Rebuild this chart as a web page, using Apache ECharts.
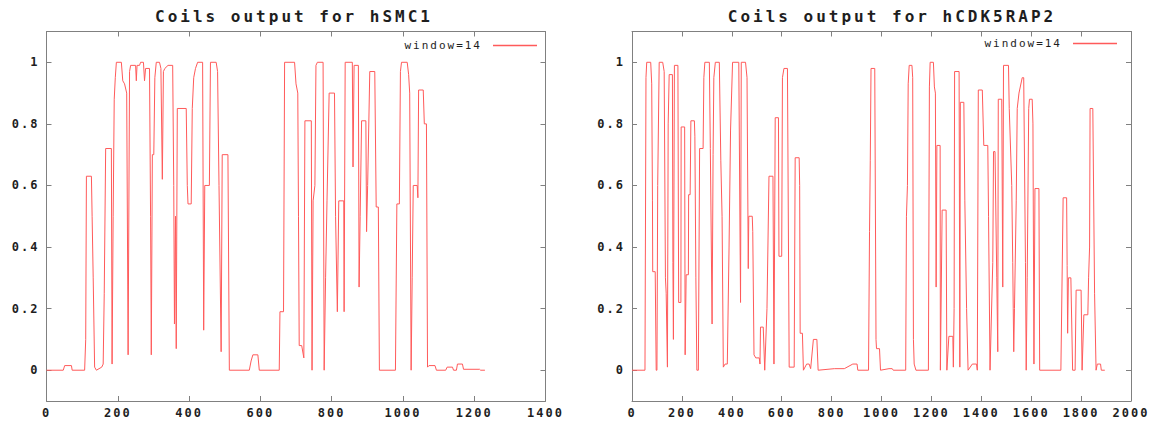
<!DOCTYPE html>
<html>
<head>
<meta charset="utf-8">
<script src="https://cdn.jsdelivr.net/npm/echarts@6/dist/echarts.min.js"></script>
<style>
html, body { margin: 0; padding: 0; background: #fff; }
#main { width: 1153px; height: 421px; }
#main text { letter-spacing: 2px; }
#main text[style*="16px"] { letter-spacing: 3px; }
</style>
</head>
<body>
<div id="main"></div>
<script>
// ---- data ----
const seriesName = 'window=14';
const leftTitle = 'Coils output for hSMC1';
const rightTitle = 'Coils output for hCDK5RAP2';
const yTickValues = [0, 0.2, 0.4, 0.6, 0.8, 1];

const smcPos = [0,47,51,70,72,107,110,112,126,128,131,135,140,155,159,162,166,182,184,187,190,193,196,210,214,219,225,229,233,236,250,252,254,261,264,272,275,278,289,292,294,297,301,304,308,317,321,325,328,332,341,354,357,359,362,364,367,392,395,397,406,409,413,418,424,438,441,444,457,460,476,480,484,490,493,509,513,569,574,579,593,597,653,655,665,668,696,700,705,707,709,716,722,725,743,745,748,753,756,760,776,779,783,787,793,808,811,816,820,834,835,838,858,860,863,875,877,880,884,896,898,901,907,921,925,931,934,979,983,990,993,996,1012,1016,1019,1023,1026,1029,1040,1042,1044,1057,1060,1066,1069,1073,1090,1094,1120,1124,1139,1142,1150,1153,1167,1170,1215,1218,1230];
const smcCoil = [0,0,0.015,0.015,0,0,0.1,0.63,0.63,0.5,0.3,0.01,0,0.01,0.02,0.25,0.72,0.72,0.02,0.5,0.88,0.95,1.0,1.0,0.94,0.93,0.9,0.05,0.97,0.99,0.99,0.94,0.99,0.99,1.0,1.0,0.94,0.98,0.98,0.5,0.05,0.7,0.7,0.95,1.0,1.0,0.98,0.62,0.97,0.98,0.99,0.99,0.6,0.15,0.5,0.07,0.85,0.85,0.6,0.54,0.54,0.85,0.95,0.98,1.0,1.0,0.13,0.6,0.6,1.0,1.0,0.97,0.6,0.06,0.7,0.7,0,0,0.03,0.05,0.05,0,0,0.19,0.19,1.0,1.0,0.93,0.9,0.5,0.08,0.08,0.04,0.81,0.81,0,0.55,0.6,0.99,1.0,1.0,0,0.3,0.55,0.9,0.9,0.5,0.19,0.55,0.55,0.19,1.0,1.0,0.66,0.99,0.99,0.27,0.5,0.81,0.81,0.45,0.6,0.97,0.97,0.53,0.53,0,0,0.54,0.54,0.97,1.0,1.0,0.96,0.9,0,0.3,0.6,0.6,0.56,0.91,0.91,0.8,0.8,0.01,0.015,0.015,0,0,0.01,0.01,0,0,0.02,0.02,0.003,0.003,0,0];

const cdkPos = [0,52,56,59,75,79,82,83,93,97,100,103,109,123,129,134,137,142,145,149,162,164,166,170,184,187,196,197,211,213,217,226,227,233,236,250,252,256,260,266,271,285,288,292,310,314,321,325,328,334,350,356,361,366,373,382,389,395,403,428,435,438,455,461,466,468,482,484,489,496,510,513,515,526,532,541,549,565,569,574,587,589,600,603,609,623,630,650,654,670,672,674,683,687,700,710,716,727,741,746,811,851,885,902,905,948,952,955,958,973,978,980,992,996,1030,1043,1047,1097,1100,1104,1107,1111,1122,1125,1128,1131,1138,1188,1192,1195,1208,1212,1216,1219,1222,1235,1236,1243,1259,1262,1270,1286,1288,1291,1293,1311,1314,1316,1330,1334,1341,1347,1364,1381,1384,1388,1404,1410,1426,1429,1435,1446,1449,1455,1462,1466,1468,1482,1486,1489,1509,1512,1522,1526,1528,1530,1533,1540,1544,1551,1564,1570,1577,1580,1584,1590,1593,1604,1607,1611,1615,1631,1634,1719,1728,1742,1744,1746,1749,1759,1766,1776,1780,1800,1804,1811,1827,1830,1834,1836,1847,1854,1860,1865,1878,1881,1895];
const cdkCoil = [0,0,0.95,1.0,1.0,0.93,0.55,0.32,0.32,0,0,0.6,1.0,1.0,0.97,0.3,0.25,0.01,0.8,0.96,0.96,0.35,0.1,0.99,0.99,0.22,0.22,0.79,0.79,0.05,0.31,0.31,0.57,0.57,0.81,0.81,0.76,0.3,0,0,0.72,0.72,0.95,1.0,1.0,0.72,0.15,0.7,0.95,1.0,1.0,0.68,0.5,0.01,0.02,0.02,0.4,0.78,1.0,1.0,0.22,1.0,1.0,0.95,0.33,0.5,0.5,0.45,0.05,0.04,0.04,0.02,0.14,0.14,0,0.2,0.63,0.63,0.02,0.82,0.82,0.37,0.37,0.95,0.98,0.98,0.01,0.01,0.69,0.69,0.6,0.12,0.12,0,0.02,0.02,0.005,0.1,0.1,0,0.005,0.005,0.02,0.02,0,0,0.45,0.68,0.98,0.98,0.1,0.07,0.07,0,0.005,0.005,0,0,0.5,0.6,0.93,0.99,0.99,0.95,0.1,0.02,0,0,0.92,1.0,1.0,0.92,0.9,0.27,0.73,0.73,0,0.52,0.52,0,0.11,0.11,0.01,0.2,0.97,0.97,0.01,0.87,0.87,0.55,0.2,0,0.02,0.02,0,0.91,0.91,0.73,0.73,0.5,0,0.35,0.71,0.71,0.3,0.06,0.88,0.88,0.27,0.99,0.99,0.85,0.6,0.35,0.2,0.06,0.2,0.55,0.85,0.9,0.95,0.95,0.35,0,0.3,0.85,0.88,0.88,0.8,0.02,0.59,0.59,0,0,0.56,0.56,0.34,0.12,0.3,0.3,0,0,0.26,0.26,0,0.18,0.18,0.3,0.4,0.85,0.85,0.25,0,0.02,0.02,0,0];

// ---- chart ----
const FONT = 'DejaVu Sans Mono';
const AXIS_COLOR = '#808080';
const TEXT_COLOR = '#1e1e1e';
const LINE_COLOR = '#ff5a5a';

function zip(xs, ys) { return xs.map((x, i) => [x, ys[i]]); }

function xAxisPair(grid, max) {
  const base = {
    gridIndex: grid, type: 'value', min: 0, max: max, interval: 200,
    splitLine: { show: false },
    axisLine: { onZero: false, lineStyle: { color: AXIS_COLOR, width: 1 } },
    axisTick: { inside: true, length: 5, lineStyle: { color: AXIS_COLOR } }
  };
  return [
    Object.assign({}, base, { position: 'bottom',
      axisLabel: { margin: 6, color: TEXT_COLOR, fontFamily: FONT, fontSize: 12, fontWeight: 'bold',
        formatter: v => String(v) } }),
    Object.assign({}, base, { position: 'top', axisLabel: { show: false } })
  ];
}
function yAxisPair(grid) {
  const base = {
    gridIndex: grid, type: 'value', min: -0.1, max: 1.1,
    splitLine: { show: false },
    axisLine: { onZero: false, lineStyle: { color: AXIS_COLOR, width: 1 } },
    axisTick: { inside: true, length: 5, customValues: yTickValues, lineStyle: { color: AXIS_COLOR } }
  };
  return [
    Object.assign({}, base, { position: 'left',
      axisLabel: { margin: 7, customValues: yTickValues, color: TEXT_COLOR, fontFamily: FONT, fontSize: 12, fontWeight: 'bold',
        formatter: v => String(v) } }),
    Object.assign({}, base, { position: 'right', axisLabel: { show: false } })
  ];
}

function legendAt(right, top) {
  return {
    data: [seriesName], right: right, top: top, align: 'right', orient: 'horizontal', padding: 0,
    icon: 'rect', itemWidth: 44, itemHeight: 1.5, selectedMode: false,
    textStyle: { fontFamily: FONT, fontSize: 11, color: TEXT_COLOR, padding: [0, 6, 0, 0] }
  };
}

const chart = echarts.init(document.getElementById('main'), null, { renderer: 'svg', width: 1153, height: 421 });
chart.setOption({
  animation: false,
  backgroundColor: '#ffffff',
  grid: [
    { left: 46.5, top: 31.5, width: 499, height: 369.5 },
    { left: 632, top: 31.5, width: 499, height: 369.5 }
  ],
  xAxis: [].concat(xAxisPair(0, 1400), xAxisPair(1, 2000)),
  yAxis: [].concat(yAxisPair(0), yAxisPair(1)),
  legend: [legendAt(616, 40), legendAt(36, 38)],
  graphic: [
    { type: 'text', x: 294, y: 16, style: { text: leftTitle, fill: TEXT_COLOR, font: 'bold 16px "DejaVu Sans Mono"', textAlign: 'center', textVerticalAlign: 'middle' } },
    { type: 'text', x: 892, y: 16, style: { text: rightTitle, fill: TEXT_COLOR, font: 'bold 16px "DejaVu Sans Mono"', textAlign: 'center', textVerticalAlign: 'middle' } }
  ],
  series: [
    { name: seriesName, type: 'line', xAxisIndex: 0, yAxisIndex: 0, data: zip(smcPos, smcCoil),
      symbol: 'none', showSymbol: false, lineStyle: { color: LINE_COLOR, width: 1 }, itemStyle: { color: LINE_COLOR } },
    { name: seriesName, type: 'line', xAxisIndex: 2, yAxisIndex: 2, data: zip(cdkPos, cdkCoil),
      symbol: 'none', showSymbol: false, lineStyle: { color: LINE_COLOR, width: 1 }, itemStyle: { color: LINE_COLOR } }
  ]
});
</script>
</body>
</html>
